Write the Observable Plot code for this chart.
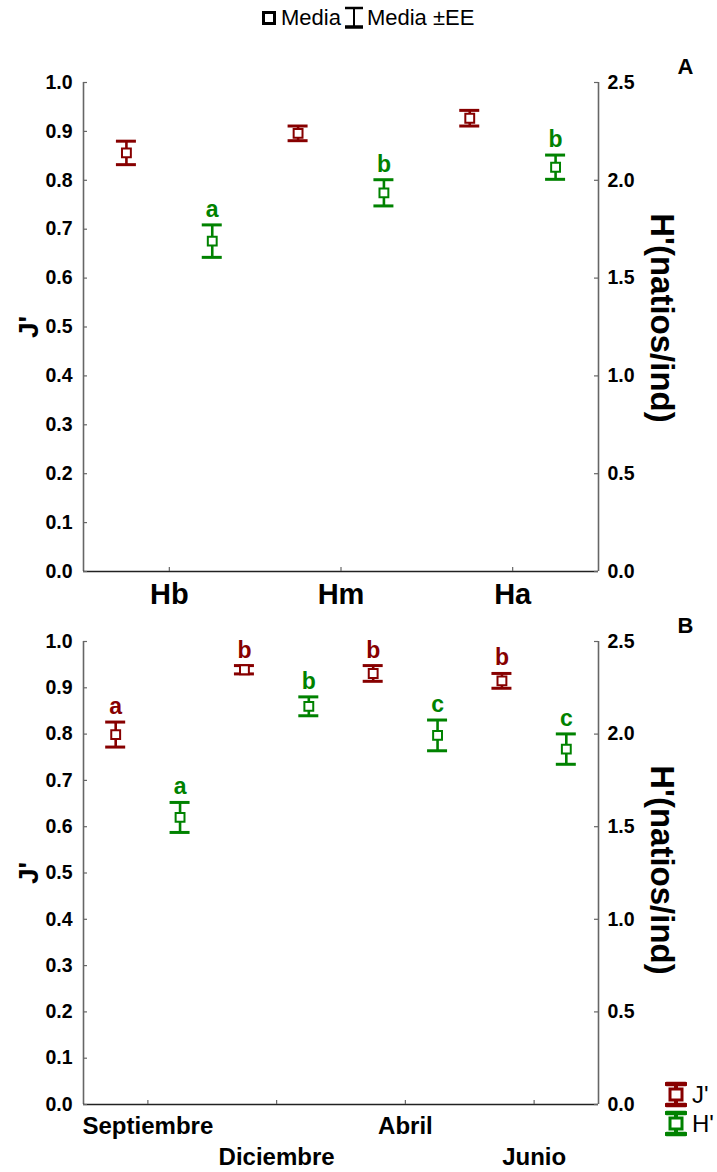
<!DOCTYPE html>
<html>
<head>
<meta charset="utf-8">
<script src="https://cdn.jsdelivr.net/npm/d3@7"></script>
<script src="https://cdn.jsdelivr.net/npm/@observablehq/plot@0.6"></script>
<style>
  body { margin: 0; background: #fff; font-family: "Liberation Sans", Arial, sans-serif; }
  #wrap { position: relative; width: 717px; height: 1172px; overflow: hidden; }
  #topLegend { position: absolute; top: 5px; left: 262px; font-size: 22px; color: #000; white-space: nowrap; display: flex; align-items: center; }
  #topLegend svg { display: block; }
  #panelA { position: absolute; top: 40px; left: 0; }
  #panelB { position: absolute; top: 610px; left: 0; }
  #sideLegend { position: absolute; left: 665px; top: 1080px; font-size: 24px; color: #000; }
  #sideLegend div { display: flex; align-items: center; height: 29px; }
  #sideLegend svg { display: block; margin-right: 5px; }
</style>
</head>
<body>
<div id="wrap">
  <div id="topLegend">
    <svg width="14" height="14"><rect x="1.5" y="1.5" width="11" height="11" fill="#fff" stroke="#000" stroke-width="3"/></svg>
    <span style="margin-left:5px">Media</span>
    <svg width="20" height="24" style="margin-left:3px"><line x1="1" x2="19" y1="2" y2="2" stroke="#000" stroke-width="2.5"/><line x1="10" x2="10" y1="2" y2="21" stroke="#000" stroke-width="2"/><line x1="1" x2="19" y1="21" y2="21" stroke="#000" stroke-width="3.5"/></svg>
    <span style="margin-left:3px">Media ±EE</span>
  </div>
  <div id="panelA"></div>
  <div id="panelB"></div>
  <div id="sideLegend">
    <div><svg width="22" height="27"><line x1="11" x2="11" y1="3" y2="24" stroke="#870000" stroke-width="4"/><line x1="1.5" x2="20.5" y1="3" y2="3" stroke="#870000" stroke-width="4.5" stroke-linecap="round"/><line x1="1.5" x2="20.5" y1="24" y2="24" stroke="#870000" stroke-width="4.5" stroke-linecap="round"/><rect x="5" y="8" width="12" height="11" fill="#fff" stroke="#870000" stroke-width="3"/></svg><span>J'</span></div>
    <div><svg width="22" height="27"><line x1="11" x2="11" y1="3" y2="24" stroke="#008200" stroke-width="4"/><line x1="1.5" x2="20.5" y1="3" y2="3" stroke="#008200" stroke-width="4.5" stroke-linecap="round"/><line x1="1.5" x2="20.5" y1="24" y2="24" stroke="#008200" stroke-width="4.5" stroke-linecap="round"/><rect x="5" y="8" width="12" height="11" fill="#fff" stroke="#008200" stroke-width="3"/></svg><span>H'</span></div>
  </div>
</div>
<script>
// ---------- data ----------
// Panel A: habitats
const habitats = ["Hb", "Hm", "Ha"];
const jA_mean = [0.856, 0.896, 0.927];
const jA_se   = [0.024, 0.015, 0.016];
const jA_letters = ["", "", ""];
const hA_mean = [1.689, 1.936, 2.067];
const hA_se   = [0.083, 0.067, 0.062];
const hA_letters = ["a", "b", "b"];

// Panel B: months
const months = ["Septiembre", "Diciembre", "Abril", "Junio"];
const jB_mean = [0.799, 0.939, 0.931, 0.915];
const jB_se   = [0.027, 0.009, 0.017, 0.016];
const jB_letters = ["a", "b", "b", "b"];
const hB_mean = [1.550, 2.150, 1.993, 1.919];
const hB_se   = [0.081, 0.051, 0.083, 0.082];
const hB_letters = ["a", "b", "c", "c"];

// axis tick values
const jTicks = [0.0, 0.1, 0.2, 0.3, 0.4, 0.5, 0.6, 0.7, 0.8, 0.9, 1.0];
const hTicks = [0.0, 0.5, 1.0, 1.5, 2.0, 2.5];
const H_MAX = 2.5;   // right axis maximum (matches J' = 1.0)

const RED = "#870000";
const GREEN = "#008200";
const FONT = "'Liberation Sans', Arial, sans-serif";

function buildRows(cats, jm, js, jl, hm, hs, hl) {
  const J = [], H = [];
  cats.forEach((c, i) => {
    J.push({cat: c, pos: i + 0.25, mean: jm[i], lo: jm[i] - js[i], hi: jm[i] + js[i], letter: jl[i]});
    H.push({cat: c, pos: i + 0.75, mean: hm[i] / H_MAX, lo: (hm[i] - hs[i]) / H_MAX, hi: (hm[i] + hs[i]) / H_MAX, letter: hl[i]});
  });
  return {J, H};
}

function seriesMarks(rows, color) {
  return [
    Plot.ruleX(rows, {x: "pos", y1: "lo", y2: "hi", stroke: color, strokeWidth: 2.6}),
    Plot.ruleY(rows, {x1: "pos", x2: "pos", y: "hi", insetLeft: -10, insetRight: -10, stroke: color, strokeWidth: 3}),
    Plot.ruleY(rows, {x1: "pos", x2: "pos", y: "lo", insetLeft: -10, insetRight: -10, stroke: color, strokeWidth: 3}),
    Plot.dot(rows, {x: "pos", y: "mean", symbol: "square", r: 5, fill: "white", stroke: color, strokeWidth: 2}),
    Plot.text(rows.filter(d => d.letter), {x: "pos", y: "hi", text: "letter", lineAnchor: "bottom", textAnchor: "middle", dy: -8, fill: color, fontSize: 23, fontWeight: "bold"})
  ];
}

function panel({cats, rows, height, marginTop, marginBottom, letter, titleDy, xAxisMarks}) {
  const n = cats.length;
  const centers = cats.map((c, i) => i + 0.5);
  return Plot.plot({
    width: 717,
    height,
    marginLeft: 83,
    marginRight: 119,
    marginTop,
    marginBottom,
    x: {domain: [0, n]},
    y: {domain: [0, 1]},
    style: {fontFamily: FONT, fontSize: "19.5px", fontWeight: "bold", color: "#000", background: "transparent", overflow: "visible"},
    marks: [
      // axis lines
      Plot.ruleX([0, n], {stroke: "#666", strokeWidth: 1.6}),
      Plot.ruleY([0], {stroke: "#222", strokeWidth: 1.6}),
      // inward ticks
      Plot.ruleY(jTicks, {y: d => d, x1: 0, x2: 0, insetRight: -4, stroke: "#666", strokeWidth: 1.2}),
      Plot.ruleY(hTicks, {y: d => d / H_MAX, x1: n, x2: n, insetLeft: -4, stroke: "#666", strokeWidth: 1.2}),
      Plot.ruleX(centers, {x: d => d, y1: 0, y2: 0, insetBottom: 4, stroke: "#666", strokeWidth: 1.2}),
      // axes
      Plot.axisY({anchor: "left", ticks: jTicks, tickSize: 0, tickPadding: 11, tickFormat: d => d.toFixed(1), label: null}),
      Plot.axisY({anchor: "right", ticks: hTicks.map(d => d / H_MAX), tickSize: 0, tickPadding: 9, tickFormat: d => (d * H_MAX).toFixed(1), label: null}),
      ...xAxisMarks(cats, centers),
      // titles
      Plot.text(["J'"], {text: d => d, frameAnchor: "left", dx: -54, rotate: -90, textAnchor: "middle", lineAnchor: "middle", fontSize: 28, fontWeight: "bold"}),
      Plot.text(["H'(natios/ind)"], {text: d => d, frameAnchor: "right", dx: 63, dy: titleDy, rotate: 90, textAnchor: "middle", lineAnchor: "middle", fontSize: 33, fontWeight: "bold"}),
      Plot.text([letter], {text: d => d, frameAnchor: "top-right", dx: 87, dy: -16, textAnchor: "middle", lineAnchor: "middle", fontSize: 22, fontWeight: "bold"}),
      // data
      ...seriesMarks(rows.J, RED),
      ...seriesMarks(rows.H, GREEN)
    ]
  });
}

const rowsA = buildRows(habitats, jA_mean, jA_se, jA_letters, hA_mean, hA_se, hA_letters);
const rowsB = buildRows(months, jB_mean, jB_se, jB_letters, hB_mean, hB_se, hB_letters);

const plotA = panel({
  cats: habitats, rows: rowsA, height: 570, marginTop: 42, marginBottom: 39, letter: "A", titleDy: -9,
  xAxisMarks: (cats, centers) => [
    Plot.axisX({ticks: centers, tickSize: 0, tickPadding: 12, tickFormat: p => cats[Math.floor(p)], fontSize: 29, label: null})
  ]
});
document.getElementById("panelA").appendChild(plotA);

const plotB = panel({
  cats: months, rows: rowsB, height: 562, marginTop: 31, marginBottom: 68, letter: "B", titleDy: -3,
  xAxisMarks: (cats, centers) => [
    Plot.axisX({ticks: centers.filter((d, i) => i % 2 === 0), tickSize: 0, tickPadding: 12, tickFormat: p => cats[Math.floor(p)], fontSize: 24, label: null}),
    Plot.axisX({ticks: centers.filter((d, i) => i % 2 === 1), tickSize: 0, tickPadding: 43, tickFormat: p => cats[Math.floor(p)], fontSize: 24, label: null})
  ]
});
document.getElementById("panelB").appendChild(plotB);
</script>
</body>
</html>
